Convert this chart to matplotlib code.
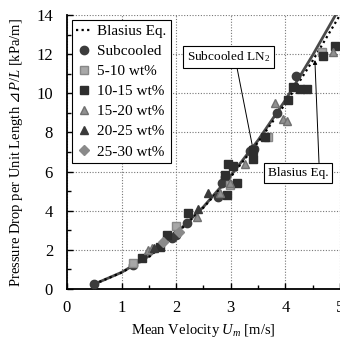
import matplotlib

matplotlib.use("Agg")

import matplotlib.pyplot as plt
from matplotlib.ticker import MultipleLocator

# fitted / correlation curves
fit_u = [0.5, 1.0, 1.5, 2.0, 2.5, 3.0, 3.5, 4.0, 4.5, 5.0]
subcooled_fit = [0.25, 0.85, 1.68, 2.85, 4.2, 5.8, 7.6, 9.65, 11.95, 14.4]
blasius_fit = [0.25, 0.84, 1.63, 2.82, 4.16, 5.73, 7.5, 9.47, 11.67, 14.0]

# measured points
sub_u = [0.5, 1.2, 1.93, 2.0, 2.2, 2.77, 2.84, 2.9, 3.35, 3.42, 3.85, 4.2]
sub_dp = [0.25, 1.25, 2.6, 2.75, 3.35, 4.7, 5.4, 5.7, 7.05, 7.15, 9.0, 10.9]
wt5_u = [1.21, 2.0, 2.98, 3.68, 4.67]
wt5_dp = [1.33, 3.2, 5.3, 7.75, 12.1]
wt10_u = [1.37, 1.70, 1.83, 2.22, 2.93, 2.9, 3.11, 2.95, 3.04, 3.41, 3.41,
          3.63, 4.05, 4.14, 4.27, 4.4, 4.69, 4.9]
wt10_dp = [1.6, 2.15, 2.75, 3.9, 4.8, 5.8, 5.4, 6.4, 6.3, 6.65, 7.1,
           7.75, 9.65, 10.3, 10.2, 10.2, 11.9, 12.4]
wt15_u = [1.48, 1.55, 2.38, 2.8, 2.98, 3.26, 3.81, 3.96, 4.03, 4.87]
wt15_dp = [2.0, 2.1, 3.7, 4.9, 5.4, 6.4, 9.5, 8.7, 8.6, 12.1]
wt20_u = [1.6, 2.4, 2.58]
wt20_dp = [2.1, 4.1, 4.9]
wt25_u = [1.76, 2.05]
wt25_dp = [2.4, 2.9]

SERIF = ["Liberation Serif", "DejaVu Serif"]
plt.rcParams["font.family"] = SERIF
plt.rcParams["mathtext.fontset"] = "custom"
plt.rcParams["mathtext.rm"] = "Liberation Serif"
plt.rcParams["mathtext.it"] = "Liberation Serif:italic"
plt.rcParams["mathtext.sf"] = "DejaVu Sans"

fig = plt.figure(figsize=(3.4, 3.41), dpi=100)
ax = fig.add_axes([0.197, 0.1525, 0.803, 0.8035])

ax.plot(fit_u, blasius_fit, color="black", linestyle=(0, (1, 1.5)), linewidth=1.6,
        label="Blasius Eq.", zorder=3)
ax.plot(fit_u, subcooled_fit, color="#4a4a4a", linewidth=2.0, zorder=2)

ms = 6
ax.plot(sub_u, sub_dp, "o", color="#3c3c3c", ms=ms, label="Subcooled", zorder=4)
ax.plot(wt5_u, wt5_dp, "s", color="#a8a8a8", mec="#888888", ms=ms, label="5-10 wt%", zorder=4)
ax.plot(wt10_u, wt10_dp, "s", color="#2e2e2e", ms=ms, label="10-15 wt%", zorder=4)
ax.plot(wt15_u, wt15_dp, "^", color="#909090", mec="#707070", ms=ms, label="15-20 wt%", zorder=4)
ax.plot(wt20_u, wt20_dp, "^", color="#3a3a3a", ms=ms, label="20-25 wt%", zorder=4)
ax.plot(wt25_u, wt25_dp, "D", color="#8a8a8a", ms=ms - 1, label="25-30 wt%", zorder=4)

ax.set_xlim(0, 5)
ax.set_ylim(0, 14)
ax.xaxis.set_major_locator(MultipleLocator(1))
ax.xaxis.set_minor_locator(MultipleLocator(0.5))
ax.yaxis.set_major_locator(MultipleLocator(2))
ax.yaxis.set_minor_locator(MultipleLocator(1))
ax.tick_params(which="both", direction="in", labelsize=12, width=1)
ax.tick_params(which="major", length=4, pad=8)
ax.tick_params(which="minor", length=3)
ax.tick_params(axis="y", pad=10)
ax.grid(True, which="major", color="#777777", linestyle=(0, (1, 1.5)), linewidth=0.8)
ax.spines["top"].set_visible(False)
ax.spines["right"].set_visible(False)
ax.spines["left"].set_linewidth(1.3)
ax.spines["bottom"].set_linewidth(1.3)

ax.set_xlabel("Mean Velocity $U_m$ [m/s]", fontsize=10.5, labelpad=4)
ax.set_ylabel("Pressure Drop per Unit Length $\\mathsf{\u22bf}P/L$ [kPa/m]",
              fontsize=10.5, labelpad=8)

leg = ax.legend(loc="upper left", fontsize=11, frameon=True, fancybox=False,
                edgecolor="black", framealpha=1, borderaxespad=0.3,
                handlelength=1.0, handletextpad=0.35, labelspacing=0.42,
                borderpad=0.3)
leg.get_frame().set_linewidth(0.8)

box = dict(boxstyle="square,pad=0.3", fc="white", ec="black", lw=0.8)
ax.annotate("Subcooled LN$_2$", xy=(3.41, 7.1), xytext=(2.95, 11.85),
            fontsize=9.5, ha="center", va="center", bbox=box,
            arrowprops=dict(arrowstyle="-|>", color="black", lw=0.7,
                            mutation_scale=6, shrinkA=0, shrinkB=0,
                            relpos=(0.6, 0.0)))
ax.annotate("Blasius Eq.", xy=(4.54, 11.7), xytext=(4.23, 5.93),
            fontsize=9.5, ha="center", va="center", bbox=box,
            arrowprops=dict(arrowstyle="-|>", color="black", lw=0.7,
                            mutation_scale=6, shrinkA=0, shrinkB=0,
                            relpos=(0.85, 1.0)))

fig.savefig("out.png", dpi=100)
